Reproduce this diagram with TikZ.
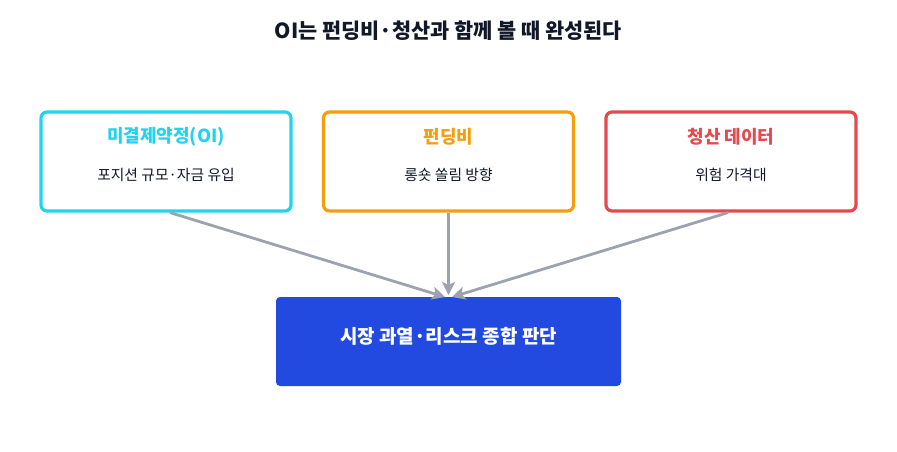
\documentclass[tikz,border=0pt]{standalone}
\usepackage{fontspec}
\setmainfont{Noto Sans CJK KR}
\usetikzlibrary{arrows.meta}
\definecolor{cyanc}{HTML}{22D3EE}
\definecolor{orangec}{HTML}{F59E0B}
\definecolor{redc}{HTML}{E5484D}
\definecolor{bluec}{HTML}{2249E0}
\definecolor{grayc}{HTML}{9CA3AF}
\definecolor{textc}{HTML}{111827}
\tikzset{
  topbox/.style={draw, line width=3.2pt, rounded corners=6pt, fill=white, minimum width=250pt, minimum height=99pt, inner sep=0pt},
  boxtitle/.style={font=\fontsize{18}{21}\selectfont\bfseries, anchor=center},
  boxsub/.style={font=\fontsize{14.8}{17}\selectfont, text=textc, anchor=center},
  conn/.style={draw=grayc, line width=2.8pt, -{Stealth[length=13pt,width=13pt,inset=3pt]}},
}
\begin{document}
\begin{tikzpicture}[x=1pt,y=-1pt]
\useasboundingbox (0,0) rectangle (897,452);
\node[font=\fontsize{20.8}{24}\selectfont\bfseries, text=textc] (title) at (448.5,31) {OI는 펀딩비·청산과 함께 볼 때 완성된다};
\node[topbox, draw=cyanc] (b1) at (166,161.5) {};
\node[topbox, draw=orangec] (b2) at (448.5,161.5) {};
\node[topbox, draw=redc] (b3) at (731,161.5) {};
\node[boxtitle, text=cyanc] (t1) at (166,137) {미결제약정(OI)};
\node[boxsub] (s1) at (166,175) {포지션 규모·자금 유입};
\node[boxtitle, text=orangec] (t2) at (448.5,137) {펀딩비};
\node[boxsub] (s2) at (448.5,175) {롱숏 쏠림 방향};
\node[boxtitle, text=redc] (t3) at (731,137) {청산 데이터};
\node[boxsub] (s3) at (731,175) {위험 가격대};
\node[fill=bluec, rounded corners=4pt, minimum width=345pt, minimum height=89pt, inner sep=0pt] (res) at (448.5,341.5) {};
\node[font=\fontsize{19}{22}\selectfont\bfseries, text=white] (rt) at (448.5,336) {시장 과열·리스크 종합 판단};
\coordinate (e1) at (445,297);
\coordinate (e2) at (448.5,295);
\coordinate (e3) at (452,297);
\draw[conn] ([xshift=4pt]b1.south) -- (e1);
\draw[conn] (b2.south) -- (e2);
\draw[conn] ([xshift=-3pt]b3.south) -- (e3);
\end{tikzpicture}
\end{document}
